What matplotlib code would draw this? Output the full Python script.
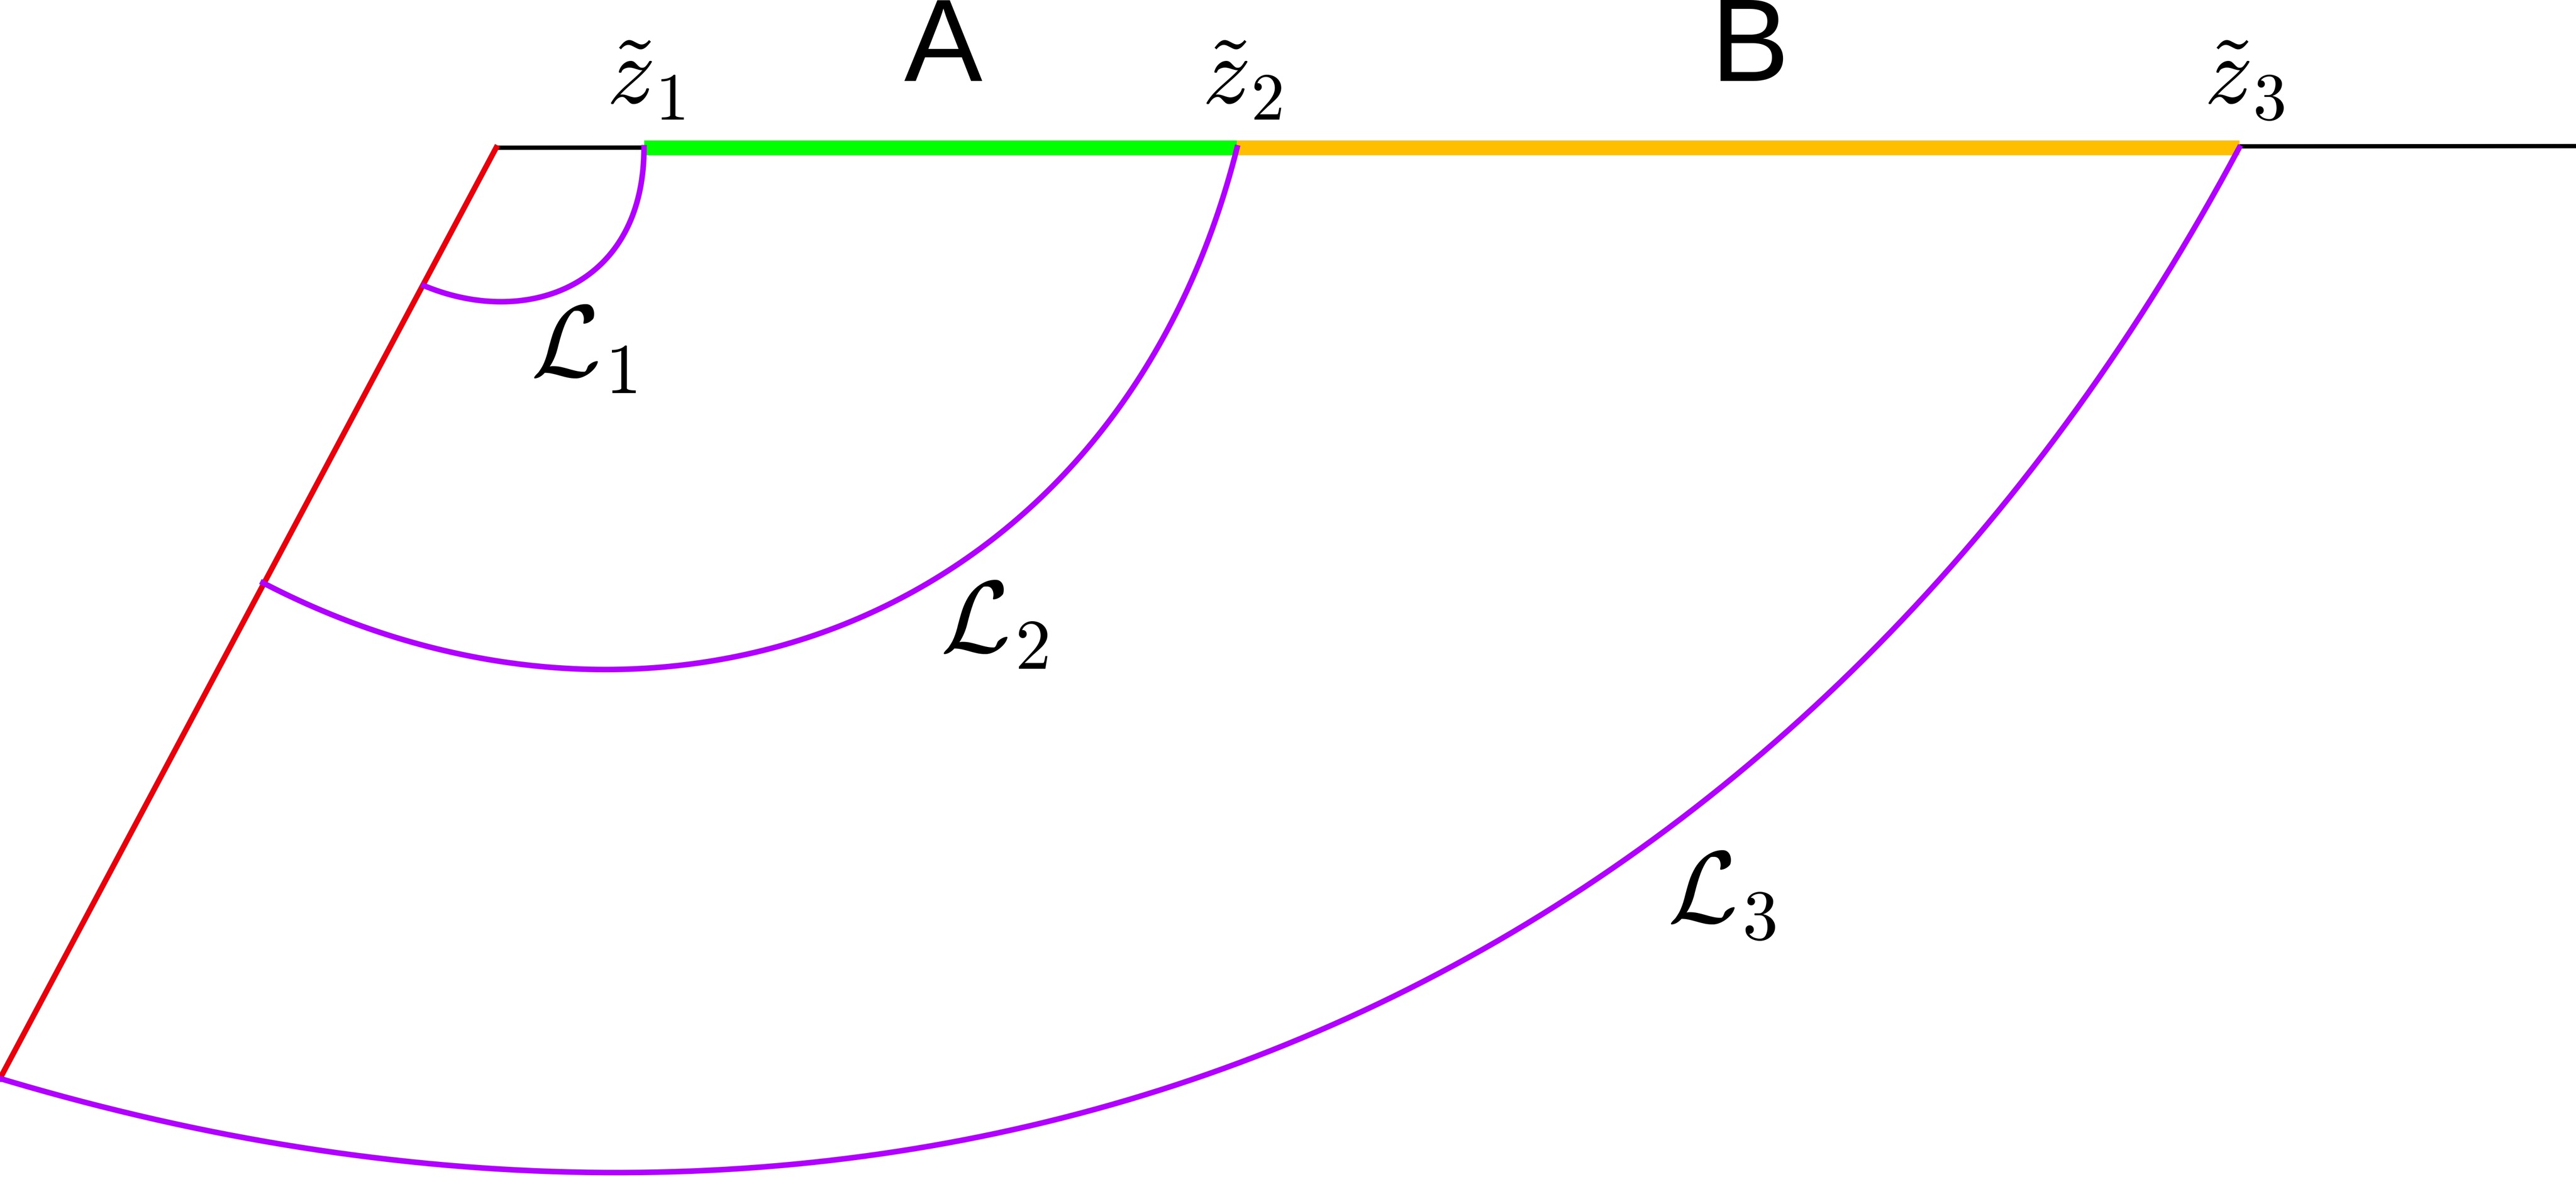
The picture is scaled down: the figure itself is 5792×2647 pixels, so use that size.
import matplotlib
matplotlib.use("Agg")
import matplotlib.pyplot as plt
import numpy as np

# geometry in reference pixel units (1568 x 717 canvas)
top_line = [(302, 90), (1568, 89)]
red_line = [(302, 90), (0, 657)]
seg_A = [(392, 90), (753, 90)]
seg_B = [(753, 90), (1363, 90)]
curves = {
    "L1": [(392, 90), (392, 175), (320, 200), (258, 174)],
    "L2": [(753, 90), (680, 380), (400, 480), (160, 355)],
    "L3": [(1363, 90), (1080, 620), (560, 825), (0, 657)],
}
labels = [
    (r"$\tilde{z}_1$", 393, 47, 155),
    (r"$\tilde{z}_2$", 756, 47, 155),
    (r"$\tilde{z}_3$", 1366, 47, 155),
    ("A", 574, 31, 190),
    ("B", 1065, 31, 190),
    (r"$\mathcal{L}_1$", 355, 212, 165),
    (r"$\mathcal{L}_2$", 605, 380, 165),
    (r"$\mathcal{L}_3$", 1048, 545, 165),
]

fig = plt.figure(figsize=(57.92, 26.47), dpi=100)
ax = fig.add_axes([0, 0, 1, 1])
ax.set_xlim(0, 1568)
ax.set_ylim(717, 0)
ax.axis("off")

def xy(pts):
    a = np.array(pts, float)
    return a[:, 0], a[:, 1]

ax.plot(*xy(top_line), color="black", lw=7, solid_capstyle="butt")
ax.plot(*xy(red_line), color="#e8000b", lw=9)
ax.plot(*xy(seg_A), color="#00ff00", lw=24, solid_capstyle="butt")
ax.plot(*xy(seg_B), color="#ffbf00", lw=24, solid_capstyle="butt")

t = np.linspace(0, 1, 300)[:, None]
for name, P in curves.items():
    P = np.array(P, float)
    B = ((1 - t) ** 3) * P[0] + 3 * ((1 - t) ** 2) * t * P[1] + 3 * (1 - t) * t ** 2 * P[2] + t ** 3 * P[3]
    ax.plot(B[:, 0], B[:, 1], color="#b000ff", lw=9)

plt.rcParams["mathtext.fontset"] = "cm"
for s, x, y, fs in labels:
    ax.text(x, y, s, fontsize=fs, ha="center", va="center",
            family="Liberation Sans" if not s.startswith("$") else None)

fig.savefig("out.png", dpi=100)
